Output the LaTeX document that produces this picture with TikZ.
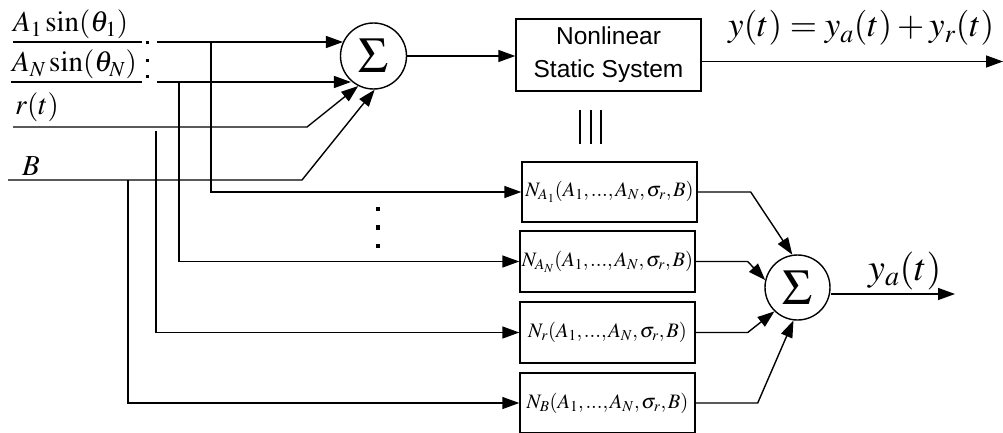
\documentclass[tikz,border=0pt]{standalone}
\usepackage{mathptmx}
\usepackage{fontspec}
\setmainfont{Liberation Serif}
\newfontfamily\arialfont{Liberation Sans}
\usetikzlibrary{arrows.meta}

% argument list of the equivalent gains, with tight commas
\newcommand{\gainargs}{(A_1{,}\mkern1.5mu...{,}\mkern1.5mu A_N{,}\mkern1.5mu\sigma_r{,}\mkern1.5mu B)}

\tikzset{
  wire/.style={line width=1.4pt, line join=miter},
  arr/.style={wire, -{Triangle[length=17pt,width=12pt]}},
  sumnode/.style={circle, draw, line width=1.4pt, minimum size=66pt, inner sep=0pt,
    font=\fontsize{50}{50}\selectfont},
  blockbox/.style={draw, line width=1.4pt, minimum width=175pt, minimum height=60pt,
    inner sep=0pt, font=\fontsize{20.5}{24}\selectfont},
  sysbox/.style={draw, line width=1.4pt, minimum width=185pt, minimum height=72pt,
    inner sep=0pt, align=center, font=\arialfont\fontsize{24.5}{33}\selectfont},
  inlabel/.style={anchor=base west, inner sep=0pt, font=\fontsize{29}{32}\selectfont},
  biglabel/.style={anchor=base west, inner sep=0pt, font=\fontsize{35}{38}\selectfont},
  dotmark/.style={fill=black, inner sep=0pt, minimum size=#1},
}

\begin{document}
\begin{tikzpicture}[x=1pt,y=-1pt]
\useasboundingbox (0,0) rectangle (1003,433);

% summing junctions
\node[sumnode] (sT) at (373.5,56) {$\Sigma$};
\node[sumnode, minimum size=65pt] (sB) at (797.5,287.5) {$\Sigma$};

% nonlinear static system
\node[sysbox] (nss) at (608.5,55) {Nonlinear\\Static System};

% equivalent gain blocks
\node[blockbox] (b1) at (609.5,192) {$N_{A_1}\gainargs$};
\node[blockbox, minimum height=61pt] (b2) at (607.5,261.5) {$N_{A_N}\gainargs$};
\node[blockbox, minimum height=61pt] (b3) at (607.5,332.5) {$N_{r}\gainargs$};
\node[blockbox] (b4) at (607.5,403) {$N_{B}\gainargs$};

% input labels
\node[inlabel] (lA1) at (13,32) {$A_1\sin(\theta_1)$};
\node[inlabel] (lAN) at (12,72) {$A_N\sin(\theta_N)$};
\node[inlabel] (lr) at (15,115) {$r(t)$};
\node[inlabel] (lB) at (22,175) {$B$};

% input line coordinates
\coordinate (a1L) at (13,42);   \coordinate (a1R) at (142,42);  \coordinate (a1M) at (157,42);
\coordinate (aNL) at (11,82);   \coordinate (aNR) at (142,82);  \coordinate (aNM) at (157,82);
\coordinate (rL) at (13,127);   \coordinate (rK) at (307,127);
\coordinate (BL) at (8,180);    \coordinate (BK) at (302,180);

% sinusoid inputs
\draw[wire] (a1L) -- (a1R);
\draw[arr] (a1M) -- (a1M -| sT.155);
\draw[wire] (aNL) -- (aNR);
\draw[arr] (aNM) -- (aNM -| sT.228);
% random and bias inputs
\draw[arr] (rL) -- (rK) -- (sT.243);
\draw[arr] (BL) -- (BK) -- (sT.272);

% ellipsis between the sinusoid inputs
\node[dotmark=3pt] (d1) at (147,43) {};
\node[dotmark=3pt] (d2) at (147,61) {};
\node[dotmark=3pt] (d3) at (147,77) {};

% branches to the gain blocks
\coordinate (j1) at (211,42);
\coordinate (jN) at (179,82);
\coordinate (jr) at (156,131);
\coordinate (jB) at (128,180);
\draw[arr] (j1) |- (b1.west);
\draw[arr] (jN) |- (b2.west);
\draw[arr] (jr) |- (b3.west);
\draw[arr] (jB) |- (b4.west);

% ellipsis between the gain-block branches
\node[dotmark=4.5pt] (e1) at (378,209) {};
\node[dotmark=4.5pt] (e2) at (378,227.5) {};
\node[dotmark=4.5pt] (e3) at (378,246) {};

% top path
\draw[arr] (sT.east) -- (sT.east -| nss.west);
\coordinate (yOut) at (1003,61.5);
\draw[arr] (nss.east |- yOut) -- (yOut);
\node[biglabel] (ly) at (728,37) {$y(t)=y_a(t)+y_r(t)$};

% equivalence sign
\draw[line width=2pt] (580,110) -- (580,144);
\draw[line width=2pt] (590.5,110) -- (590.5,144);
\draw[line width=2pt] (601,110) -- (601,144);

% block outputs into the lower sum
\draw[arr] (b1.east) -- ++(53,0) -- (sB.99);
\draw[arr] (b2.east) -- ++(52,0) -- (sB.167);
\draw[arr] (b3.east) -- ++(52,0) -- (sB.226);
\draw[arr] (b4.east) -- ++(62,0) -- (sB.263);

% approximate output
\coordinate (yaOut) at (955,294);
\draw[arr] (sB.east |- yaOut) -- (yaOut);
\node[biglabel, font=\fontsize{38}{42}\selectfont] (lya) at (868,280) {$y_a(t)$};
\end{tikzpicture}
\end{document}
